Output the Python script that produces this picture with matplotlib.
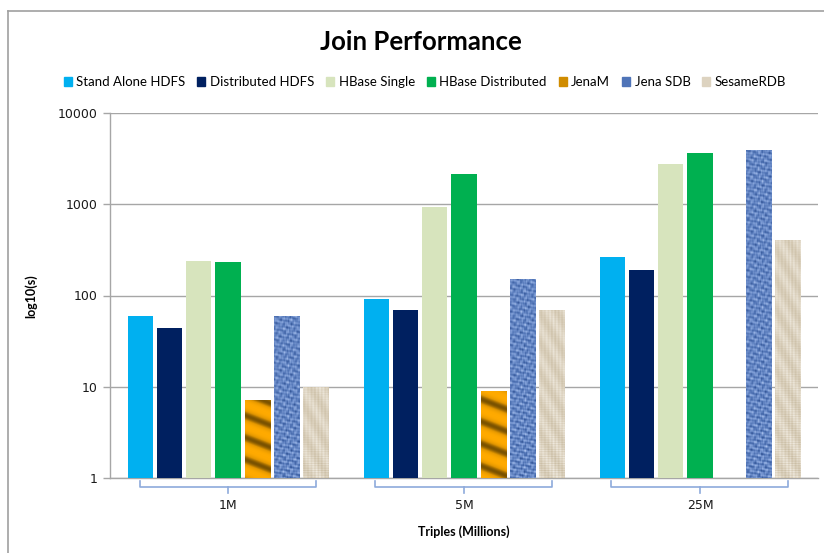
import numpy as np
import matplotlib
matplotlib.use("Agg")
import matplotlib.pyplot as plt
import matplotlib.patches as mpatches
import matplotlib.transforms as mtrans
from matplotlib.colors import LinearSegmentedColormap

categories = ["1M", "5M", "25M"]
series = ["Stand Alone HDFS", "Distributed HDFS", "HBase Single",
          "HBase Distributed", "JenaM", "Jena SDB", "SesameRDB"]

stand_alone = [60, 91, 262]
distributed = [44, 70, 192]
hbase_single = [240, 940, 2770]
hbase_dist = [235, 2150, 3650]
jena_m = [7.1, 9, np.nan]
jena_sdb = [60, 150, 3950]
sesame = [10, 70, 410]
values = [stand_alone, distributed, hbase_single, hbase_dist, jena_m, jena_sdb, sesame]

colors = ["#00B0F0", "#002060", "#D7E4BD", "#00B050", "#D08C00", "#4F74B8", "#DDD3C0"]
textures = [None, None, None, None, "gold", "knit", "linen"]

fig = plt.figure(figsize=(8.24, 5.53), dpi=100)
ax = fig.add_axes([110 / 824, 75 / 553, 708 / 824, 365 / 553])

# chart area frame (left and top edges visible)
fig.add_artist(plt.Line2D([8 / 824, 8 / 824], [0, 1 - 11 / 553], color="#A0A0A0", lw=1.2,
                          transform=fig.transFigure))
fig.add_artist(plt.Line2D([8 / 824, 1], [1 - 11 / 553, 1 - 11 / 553], color="#A0A0A0", lw=1.2,
                          transform=fig.transFigure))

ax.set_yscale("log")
x = np.arange(len(categories))
pitch = 0.123
width = 0.106

# texture images in axes pixel grid
H, W = 365, 708
yy, xx = np.mgrid[0:H, 0:W].astype(float)

gold_v = 0.5 + 0.5 * np.sin(2 * np.pi * (yy + 0.4 * xx) / 22.0)
gold_v = gold_v ** 1.5
gold_cmap = LinearSegmentedColormap.from_list("gold", ["#FFAA00", "#E39700", "#7A5200"])

knit_v = (np.sin(xx * 0.9) * np.sin(yy * 0.75) + 0.7 * np.sin(xx * 0.45 + yy * 1.1)
          + 0.5 * np.sin(xx * 1.6 - yy * 0.5) + 0.6 * np.sin(yy * 1.9 + xx * 0.2)
          + 0.4 * np.sin(xx * 2.7 + yy * 0.35))
knit_v = (knit_v - knit_v.min()) / (knit_v.max() - knit_v.min())
knit_cmap = LinearSegmentedColormap.from_list("knit", ["#2A4A8A", "#4C70B2", "#7E9DD6", "#B4CAF0"])

linen_v = (0.5 * np.sin(xx * 2.2) ** 2 + 0.5 * np.sin(yy * 1.8) ** 2
           + 0.25 * np.sin(xx * 0.37 + yy * 0.21))
linen_v = (linen_v - linen_v.min()) / (linen_v.max() - linen_v.min())
linen_cmap = LinearSegmentedColormap.from_list("linen", ["#C9BCA2", "#DCD2BF", "#F1ECE2"])

tex_data = {"gold": (gold_v, gold_cmap), "knit": (knit_v, knit_cmap), "linen": (linen_v, linen_cmap)}

bar_sets = []
for i, (name, vals) in enumerate(zip(series, values)):
    offs = (i - 3) * pitch
    bars = ax.bar(x + offs, vals, width, color=colors[i], linewidth=0, label=name, zorder=3)
    bar_sets.append(bars)

ax.set_ylim(1, 10000)
ax.set_xlim(-0.5, 2.5)
ax.set_autoscale_on(False)

for i, bars in enumerate(bar_sets):
    t = textures[i]
    if t is None:
        continue
    data, cmap = tex_data[t]
    for rect, v in zip(bars, values[i]):
        if np.isnan(v):
            continue
        im = ax.imshow(data, extent=[0, 1, 0, 1], transform=ax.transAxes, cmap=cmap,
                       origin="lower", aspect="auto", interpolation="bilinear", zorder=4)
        im.set_clip_path(rect)

ax.set_ylim(1, 10000)
ax.set_xlim(-0.5, 2.5)

# axes styling
ax.yaxis.grid(True, which="major", color="#A6A6A6", lw=1.0, zorder=0)
ax.set_axisbelow(True)
ax.minorticks_off()
ax.set_yticks([1, 10, 100, 1000, 10000])
ax.set_yticklabels(["1", "10", "100", "1000", "10000"])
ax.tick_params(axis="y", length=5, width=1, color="#A6A6A6", labelsize=9, pad=4,
               labelcolor="#1A1A1A")
ax.set_xticks([])
for s in ["top", "right"]:
    ax.spines[s].set_visible(False)
for s in ["left", "bottom"]:
    ax.spines[s].set_color("#A6A6A6")
    ax.spines[s].set_linewidth(1.0)

# category brackets below the axis
blend = mtrans.blended_transform_factory(ax.transData, ax.transAxes)
for xi, cat in zip(x, categories):
    l, r = xi - 0.375, xi + 0.375
    ax.plot([l, l, r, r], [-0.008, -0.025, -0.025, -0.008], color="#8EAADB", lw=1.2,
            transform=blend, clip_on=False)
    ax.plot([xi, xi], [-0.025, -0.04], color="#8EAADB", lw=1.2, transform=blend, clip_on=False)
    ax.text(xi, -0.075, cat, transform=blend, ha="center", va="center", fontsize=9,
            color="#1A1A1A")

fig.text(0.5 * (110 + 818) / 824, 1 - 532 / 553, "Triples (Millions)", ha="center", va="center",
         fontsize=9, fontweight="bold", family="Lato")
fig.text(31 / 824, 1 - 296 / 553, "log10(s)", ha="center", va="center", rotation=90,
         fontsize=9, fontweight="bold", family="Lato")
fig.text(421 / 824, 1 - 42 / 553, "Join Performance", ha="center", va="center",
         fontsize=18.5, fontweight="bold", family="Lato")

handles = [mpatches.Patch(color=c, label=s) for c, s in zip(colors, series)]
fig.legend(handles=handles, loc="center", bbox_to_anchor=(425 / 824, 1 - 82 / 553), ncol=7,
           frameon=False, handlelength=0.6, handleheight=0.6, handletextpad=0.35,
           columnspacing=0.9, prop={"family": "Lato", "size": 9.5})

fig.savefig("out.png", dpi=100)
